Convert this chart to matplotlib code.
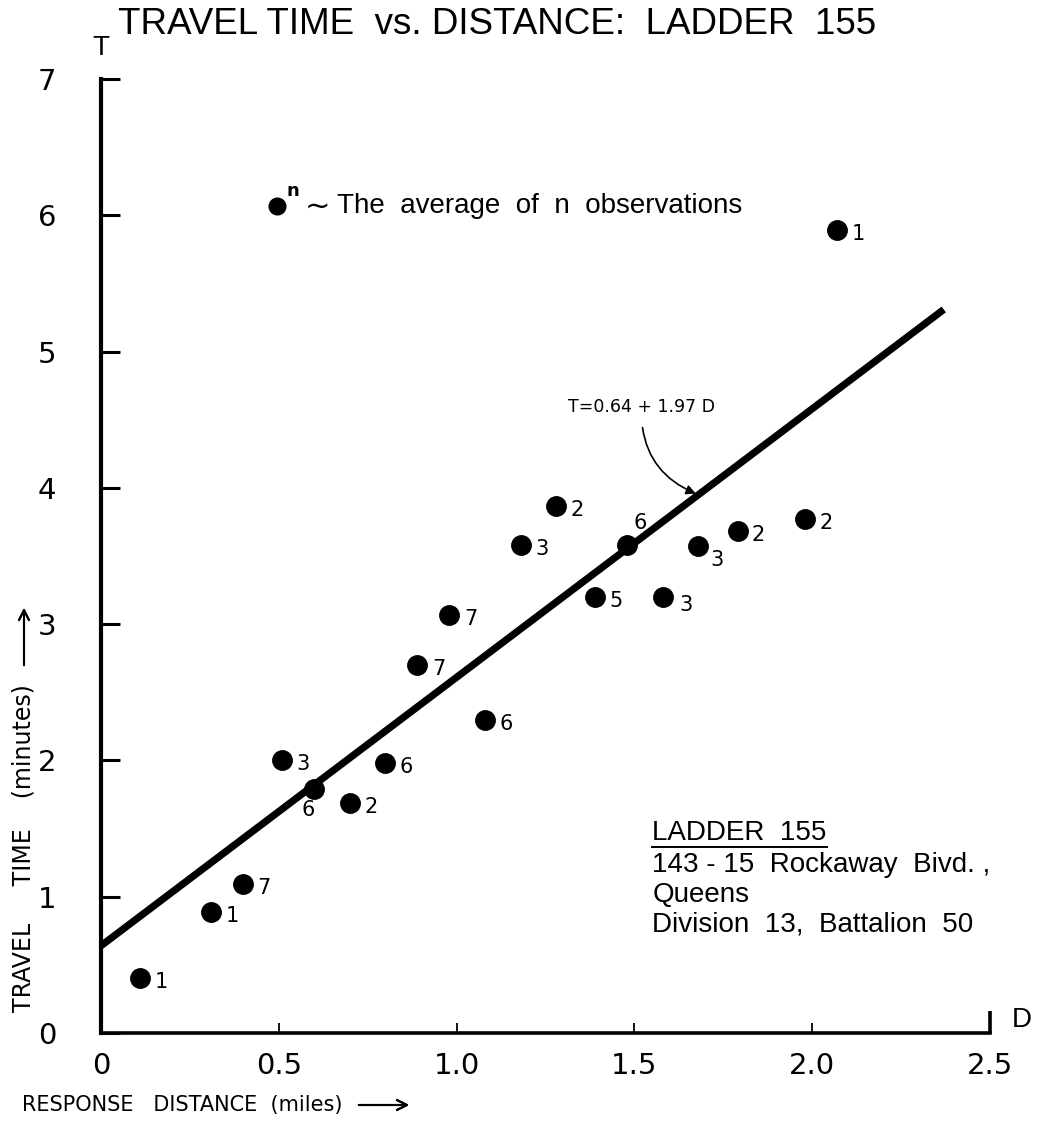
import matplotlib
matplotlib.use("Agg")
import matplotlib.pyplot as plt
from matplotlib.lines import Line2D

# response distance (miles), travel time (minutes), number of runs averaged
distance = [0.11, 0.31, 0.40, 0.51, 0.60, 0.70, 0.80, 0.89, 0.98, 1.08,
            1.18, 1.28, 1.39, 1.48, 1.58, 1.68, 1.79, 1.98, 2.07]
travel_time = [0.40, 0.89, 1.09, 2.00, 1.79, 1.69, 1.98, 2.70, 3.07, 2.30,
               3.58, 3.87, 3.20, 3.58, 3.20, 3.57, 3.68, 3.77, 5.89]
n_obs = [1, 1, 7, 3, 6, 2, 6, 7, 7, 6, 3, 2, 5, 6, 3, 3, 2, 2, 1]

# fitted line T = a + b D
intercept = 0.64
slope = 1.97
fit_end = 2.37

x_ticks = [0, 0.5, 1.0, 1.5, 2.0, 2.5]
x_tick_labels = ["0", "0.5", "1.0", "1.5", "2.0", "2.5"]
y_ticks = [0, 1, 2, 3, 4, 5, 6, 7]

narrow = ["Liberation Sans", "DejaVu Sans"]

W, H = 1039, 1130
fig = plt.figure(figsize=(W / 100, H / 100), dpi=100)
ax = fig.add_axes([101 / W, 1 - 1033 / H, 889 / W, 954 / H])

# regression line
ax.plot([0, fit_end], [intercept, intercept + slope * fit_end],
        color="black", lw=5.2, solid_capstyle="butt", zorder=2)

# averaged observations
ax.plot(distance, travel_time, "o", ms=14, color="black", zorder=3,
        clip_on=False)

# count labels next to each dot (pixel offsets)
offsets = {4: (-6, -21), 13: (13, 22), 15: (19, -14), 14: (23, -8)}
for i, (d, t, n) in enumerate(zip(distance, travel_time, n_obs)):
    dx, dy = offsets.get(i, (21, -4))
    ax.annotate(str(n), (d, t), xytext=(dx, dy), textcoords="offset pixels",
                ha="center", va="center", fontsize=15)

# equation with curved pointer onto the line
ax.annotate("T=0.64 + 1.97 D", xy=(1.68, intercept + slope * 1.68),
            xytext=(1.52, 4.59), ha="center", va="center", fontsize=12.5,
            arrowprops=dict(arrowstyle="-|>", color="black", lw=1.2,
                            mutation_scale=14, shrinkA=6, shrinkB=2,
                            connectionstyle="arc3,rad=0.35"))

# key
ax.plot([0.495], [6.07], "o", ms=12, color="black")
ax.text(0.522, 6.11, "n", fontsize=13, fontweight="bold", va="bottom")
ax.text(0.572, 6.06, "~", fontsize=22, va="center")
ax.text(0.665, 6.07, "The  average  of  n  observations", family=narrow,
        fontsize=20, va="center")

# company info block
info = ax.text(1.55, 1.47, "LADDER  155", family=narrow, fontsize=20,
               va="center")
ax.text(1.55, 1.015, "143 - 15  Rockaway  Bivd. ,\nQueens\nDivision  13,  Battalion  50",
        family=narrow, fontsize=20, va="center", linespacing=1.17)

ax.set_xlim(0, 2.5)
ax.set_ylim(0, 7)
ax.set_xticks(x_ticks)
ax.set_xticklabels(x_tick_labels)
ax.set_yticks(y_ticks)
for s in ["top", "right"]:
    ax.spines[s].set_visible(False)
ax.spines["left"].set_linewidth(3)
ax.spines["bottom"].set_linewidth(2.6)
ax.tick_params(axis="y", direction="in", length=14, width=2.2, pad=32,
               labelsize=21)
ax.tick_params(axis="x", direction="in", length=7, width=1.3, pad=14,
               labelsize=21)
end_tick = ax.xaxis.get_major_ticks()[-1]
end_tick.tick1line.set_markersize(16)
end_tick.tick1line.set_markeredgewidth(2.6)

fig.text(101 / W, 1 - 48 / H, "T", fontsize=20, family=narrow,
         ha="center", va="center")
fig.text(1022 / W, 1 - 1020 / H, "D", fontsize=20, family=narrow,
         ha="center", va="center")

fig.text(118 / W, 1 - 34 / H, "TRAVEL TIME  vs. DISTANCE:  LADDER  155",
         family=narrow, fontsize=26.5, ha="left", va="baseline")

# axis captions with pointing arrows
fig.text(22 / W, 1 - 1105 / H, "RESPONSE   DISTANCE  (miles)", fontsize=15,
         ha="left", va="center")
fig.add_artist(plt.annotate("", xy=(412 / W, 1 - 1105 / H),
                            xytext=(356 / W, 1 - 1105 / H),
                            xycoords="figure fraction",
                            arrowprops=dict(arrowstyle="->", lw=1.5,
                                            mutation_scale=18)))
fig.text(24 / W, 1 - 1012 / H, "TRAVEL     TIME    (minutes)", fontsize=17,
         rotation=90, ha="center", va="bottom")
fig.add_artist(plt.annotate("", xy=(24 / W, 1 - 605 / H),
                            xytext=(24 / W, 1 - 668 / H),
                            xycoords="figure fraction",
                            arrowprops=dict(arrowstyle="->", lw=1.5,
                                            mutation_scale=18)))

# underline the company name
fig.canvas.draw()
bb = info.get_window_extent()
fig.add_artist(Line2D([bb.x0, bb.x1], [bb.y0 - 1, bb.y0 - 1], color="black",
                      lw=1.4, transform=None))

fig.savefig("out.png", dpi=100)
